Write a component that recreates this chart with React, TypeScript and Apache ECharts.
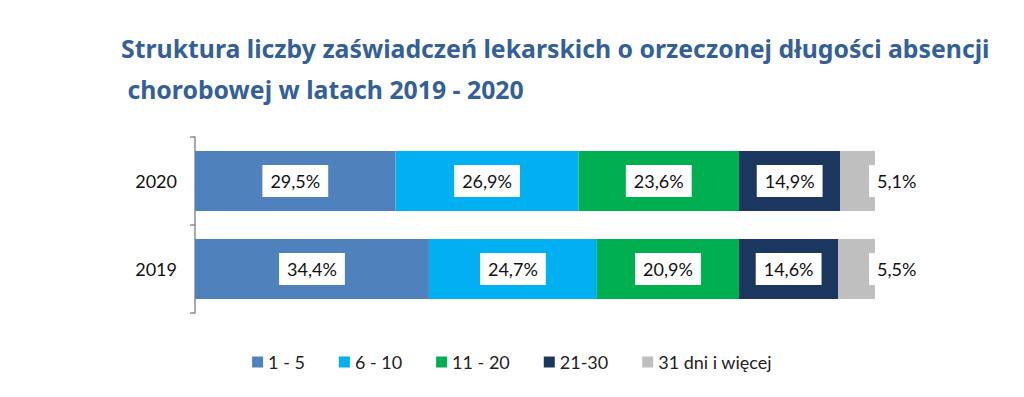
import React, { useEffect, useRef } from "react";
import * as echarts from "echarts";

const years = ["2019", "2020"];
const seriesNames = ["1 - 5", "6 - 10", "11 - 20", "21-30", "31 dni i więcej"];
const values1to5 = [34.4, 29.5];
const values6to10 = [24.7, 26.9];
const values11to20 = [20.9, 23.6];
const values21to30 = [14.6, 14.9];
const values31plus = [5.5, 5.1];
const colors = ["#4f81bd", "#00b0f0", "#00b050", "#1b365f", "#bfbfbf"];
const titleLines = [
  "Struktura liczby zaświadczeń lekarskich o orzeczonej długości absencji",
  " chorobowej w latach 2019 - 2020",
];

const FONT = "Lato";

export default function App() {
  const ref = useRef<HTMLDivElement>(null);
  useEffect(() => {
    if (!ref.current) return;
    const chart = echarts.init(ref.current, null, { renderer: "svg" });
    const data = [values1to5, values6to10, values11to20, values21to30, values31plus];
    const fmt = (p: any) => String(p.value.toFixed(1)).replace(".", ",") + "%";
    chart.setOption({
      animation: false,
      textStyle: { fontFamily: FONT },
      title: {
        text: titleLines.join("\n"),
        left: 108,
        top: 14,
        textStyle: {
          fontFamily: "Noto Sans",
          fontSize: 24.8,
          fontWeight: "bold",
          color: "#34609a",
          lineHeight: 41,
        },
      },
      legend: {
        top: 340,
        left: "center",
        itemWidth: 11,
        itemHeight: 11,
        itemGap: 34,
        icon: "rect",
        textStyle: { fontFamily: FONT, fontSize: 18, color: "#222" },
        data: seriesNames,
      },
      grid: { left: 187, right: 141, top: 129, bottom: 76 },
      xAxis: { type: "value", min: 0, max: 100, show: false },
      yAxis: {
        type: "category",
        data: years,
        axisLine: { show: true, lineStyle: { color: "#8c8c8c", width: 1.5 } },
        axisTick: { show: true, length: 5, lineStyle: { color: "#8c8c8c", width: 1.5 } },
        axisLabel: { fontFamily: FONT, fontSize: 18, color: "#111", margin: 18 },
      },
      series: seriesNames.map((name, i) => ({
        name,
        type: "bar",
        stack: "total",
        barWidth: 60,
        data: data[i],
        itemStyle: { color: colors[i] },
        label: {
          show: true,
          position: i === 4 ? "right" : "inside",
          distance: i === 4 ? -6 : 5,
          formatter: fmt,
          fontFamily: FONT,
          fontSize: 18,
          color: "#111",
          backgroundColor: "#ffffff",
          padding: i === 4 ? [7, 6, 7, 8] : [7, 8],
        },
      })),
    });
    return () => chart.dispose();
  }, []);
  return <div ref={ref} style={{ width: 1008, height: 381 }} />;
}
